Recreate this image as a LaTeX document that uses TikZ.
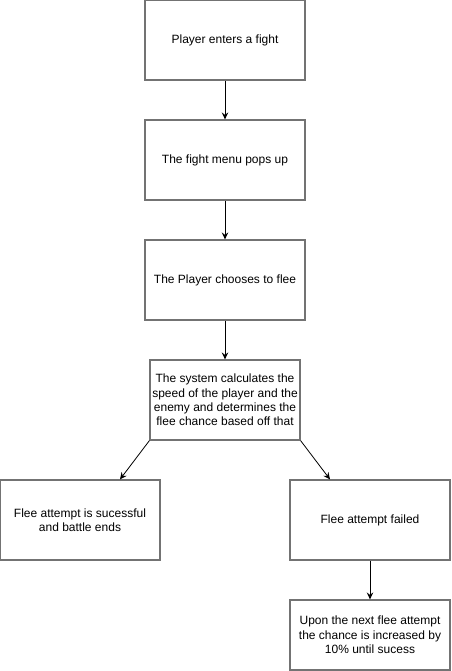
\documentclass[tikz,border=0pt]{standalone}
\usepackage{fontspec}
\setmainfont{Liberation Sans}
\usetikzlibrary{arrows.meta,calc}
\begin{document}
\begin{tikzpicture}[x=1pt,y=-1pt,
  box/.style={draw=black!55,line width=1.2pt,rectangle,minimum width=160pt,minimum height=80pt,align=center,font=\fontsize{12pt}{14.4pt}\selectfont,inner sep=2pt},
  arr/.style={draw=black,line width=0.8pt,-{Stealth[length=7pt,width=6.5pt,inset=2.5pt]}}]
\useasboundingbox (0,0) rectangle (451,671);
\node[box] (b1) at (225,40) {Player enters a fight};
\node[box] (b2) at (225,160) {The fight menu pops up};
\node[box] (b3) at (225,280) {The Player chooses to flee};
\node[box,minimum width=150pt] (b4) at (225,400) {The system calculates the\\speed of the player and the\\enemy and determines the\\flee chance based off that};
\node[box] (b5) at (80,520) {Flee attempt is sucessful\\and battle ends};
\node[box] (b6) at (370,520) {Flee attempt failed};
\node[box,minimum height=70pt] (b7) at (370,635) {Upon the next flee attempt\\the chance is increased by\\10\% until sucess};
\draw[arr] (b1) -- (b2);
\draw[arr] (b2) -- (b3);
\draw[arr] (b3) -- (b4);
\draw[arr] (b4.south west) -- ($(b5.north)+(40,0)$);
\draw[arr] (b4.south east) -- ($(b6.north)+(-40,0)$);
\draw[arr] (b6) -- (b7);
\end{tikzpicture}
\end{document}
